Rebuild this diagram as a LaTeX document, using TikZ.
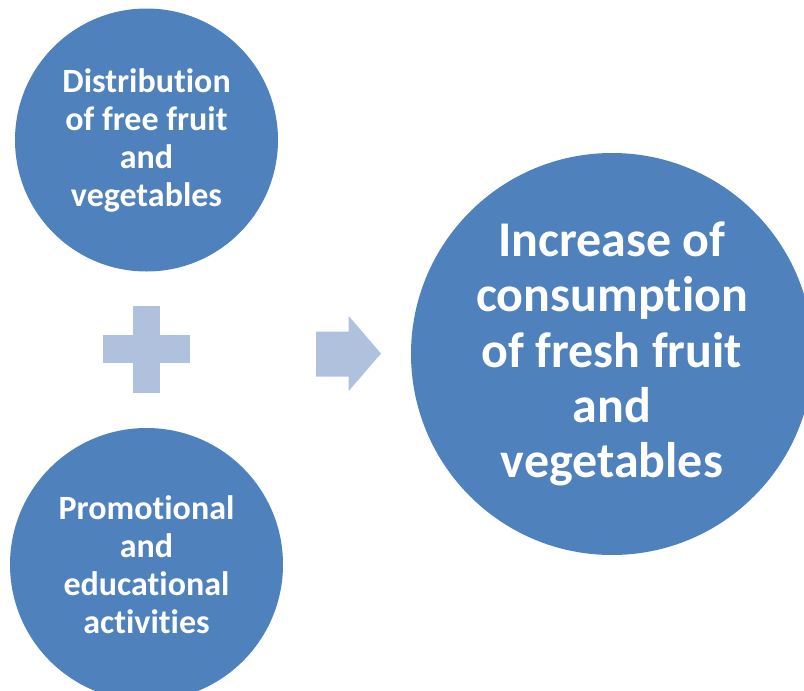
\documentclass[tikz,border=0pt]{standalone}
\usepackage{fontspec}
\setmainfont{Carlito}[Ligatures=NoCommon]
\definecolor{discblue}{HTML}{4F81BD}
\definecolor{signblue}{HTML}{B0C1DE}
\begin{document}
\begin{tikzpicture}[x=1pt, y={(0pt,-1pt)},
    disc/.style={circle, fill=discblue, text=white, inner sep=0pt, align=center,
        font=\bfseries\fontsize{34}{38}\selectfont},
    bigdisc/.style={disc, font=\bfseries\fontsize{50}{55.3}\selectfont},
    sign/.style={fill=signblue}]
    \useasboundingbox (0,0) rectangle (804,691);
    % the two measures
    \node[disc, minimum size=263pt] (supply) at (146.5,140)
        {Distribution\\of free fruit\\and\\vegetables};
    \node[disc, minimum size=273pt] (promo) at (146.5,564.5)
        {Promotional\\and\\educational\\activities};
    % the outcome
    \node[bigdisc, minimum size=402pt] (result) at (612,354)
        {Increase of\\consumption\\of fresh fruit\\and\\vegetables};
    % plus sign
    \fill[sign] (102.7,335.2) rectangle (190,362.8);
    \fill[sign] (132.6,305.7) rectangle (160.2,392.7);
    % arrow
    \fill[sign] (316,331.7) -- (348.7,331.7) -- (348.7,316) -- (381,353.5)
        -- (348.7,391) -- (348.7,376.7) -- (316,376.7) -- cycle;
\end{tikzpicture}
\end{document}
